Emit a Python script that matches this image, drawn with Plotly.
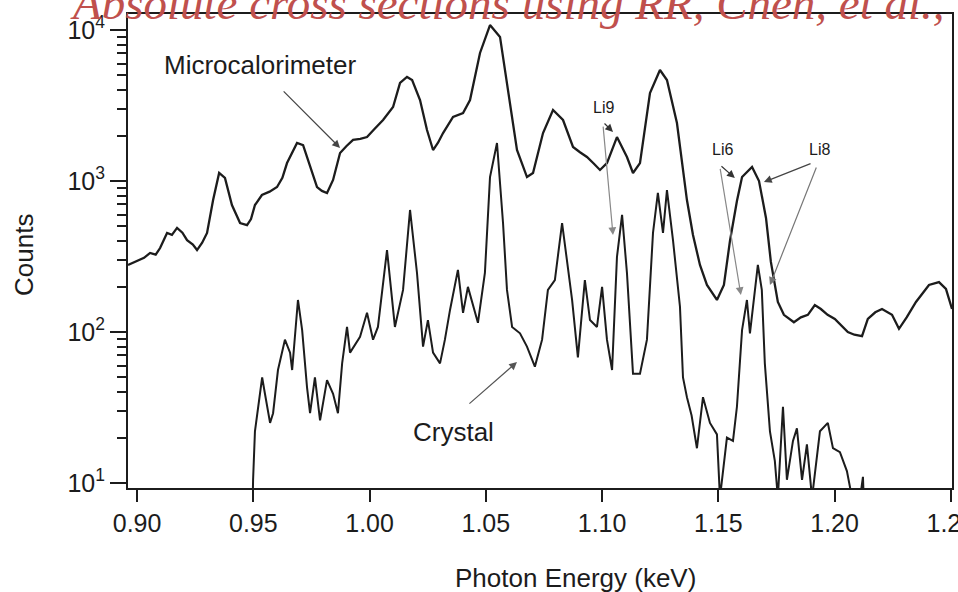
import plotly.graph_objects as go

# ---- data ----
micro_energy = [
    0.8961, 0.8991, 0.9030, 0.9056, 0.9080, 0.9099, 0.9129, 0.9150, 0.9172, 0.9195,
    0.9215, 0.9240, 0.9258, 0.9280, 0.9301, 0.9327, 0.9353, 0.9378, 0.9408, 0.9443,
    0.9473, 0.9490, 0.9507, 0.9537, 0.9570, 0.9602, 0.9625, 0.9645, 0.9688, 0.9714,
    0.9744, 0.9774, 0.9795, 0.9817, 0.9843, 0.9873, 0.9900, 0.9929, 0.9960, 0.9989,
    1.0020, 1.0058, 1.0101, 1.0131, 1.0161, 1.0183, 1.0217, 1.0247, 1.0273, 1.0295,
    1.0316, 1.0359, 1.0402, 1.0432, 1.0475, 1.0518, 1.0561, 1.0591, 1.0634, 1.0677,
    1.0703, 1.0746, 1.0789, 1.0832, 1.0875, 1.0905, 1.0935, 1.0965, 1.0991, 1.1021,
    1.1064, 1.1107, 1.1133, 1.1163, 1.1206, 1.1249, 1.1279, 1.1322, 1.1365, 1.1391,
    1.1421, 1.1451, 1.1494, 1.1524, 1.1550, 1.1580, 1.1602, 1.1645, 1.1675, 1.1705,
    1.1726, 1.1756, 1.1782, 1.1825, 1.1855, 1.1885, 1.1915, 1.1941, 1.1970, 1.2001,
    1.2030, 1.2057, 1.2085, 1.2118, 1.2143, 1.2175, 1.2204, 1.2247, 1.2277, 1.2310,
    1.2350, 1.2406, 1.2449, 1.2479, 1.2505,
]
micro_counts = [
    278, 291, 310, 334, 325, 360, 453, 440, 489, 455,
    406, 380, 349, 390, 453, 748, 1130, 1047, 693, 527,
    511, 560, 693, 808, 850, 912, 1050, 1315, 1786, 1730,
    1276, 912, 860, 833, 1016, 1531, 1700, 1870, 1900, 1955,
    2200, 2535, 3090, 4457, 4887, 4665, 3438, 2176, 1604, 1800,
    2078, 2655, 2820, 3438, 7047, 10790, 8995, 4457, 1604, 1062,
    1130, 2078, 2951, 2535, 1680, 1550, 1442, 1300, 1183, 1315,
    1955, 1442, 1130, 1315, 3828, 5433, 4665, 2421, 748, 439,
    278, 205, 163, 205, 401, 738, 1062, 1239, 1000, 569,
    291, 158, 130, 116, 125, 130, 151, 142, 130, 122,
    110, 100, 96, 94, 122, 135, 142, 130, 105, 125,
    158, 205, 214, 193, 142,
]

crystal_energy = [
    0.9495, 0.9499, 0.9507, 0.9520, 0.9538, 0.9550, 0.9572, 0.9585, 0.9606, 0.9636,
    0.9658, 0.9667, 0.9692, 0.9710, 0.9731, 0.9744, 0.9765, 0.9787, 0.9817, 0.9843,
    0.9864, 0.9882, 0.9903, 0.9916, 0.9959, 0.9989, 1.0015, 1.0036, 1.0075, 1.0109,
    1.0144, 1.0174, 1.0204, 1.0230, 1.0251, 1.0273, 1.0303, 1.0324, 1.0346, 1.0380,
    1.0402, 1.0423, 1.0445, 1.0466, 1.0496, 1.0518, 1.0548, 1.0574, 1.0591, 1.0613,
    1.0647, 1.0677, 1.0711, 1.0742, 1.0767, 1.0797, 1.0828, 1.0849, 1.0871, 1.0896,
    1.0926, 1.0948, 1.0978, 1.1000, 1.1021, 1.1043, 1.1064, 1.1086, 1.1107, 1.1133,
    1.1163, 1.1193, 1.1219, 1.1240, 1.1262, 1.1279, 1.1305, 1.1335, 1.1348, 1.1365,
    1.1385, 1.1408, 1.1434, 1.1464, 1.1494, 1.1507, 1.1537, 1.1563, 1.1580, 1.1602,
    1.1623, 1.1636, 1.1657, 1.1670, 1.1687, 1.1700, 1.1722, 1.1743, 1.1756, 1.1778,
    1.1795, 1.1821, 1.1838, 1.1860, 1.1881, 1.1903, 1.1937, 1.1971, 1.1993, 1.2023,
    1.2053, 1.2075, 1.2110, 1.2122, 1.2130,
]
crystal_counts = [
    5, 10.5, 22, 32, 50, 39, 25, 29, 56, 89,
    73, 56, 163, 103, 43, 29, 50, 26, 48, 39,
    29, 62, 108, 73, 93, 134, 89, 108, 349, 108,
    190, 643, 246, 80, 120, 73, 62, 89, 140, 258,
    134, 199, 147, 115, 246, 1062, 1786, 527, 190, 108,
    98, 80, 59, 89, 190, 221, 527, 300, 163, 68,
    221, 120, 108, 199, 89, 56, 314, 596, 246, 53,
    53, 89, 453, 833, 453, 871, 406, 147, 50, 37,
    28, 17, 37, 25, 21, 8, 20, 19, 32, 103,
    163, 98, 190, 278, 190, 62, 22, 14, 8, 32,
    10.5, 19, 23, 10.5, 18, 8, 22, 25, 17, 16,
    12, 8, 8, 11, 5,
]

x_ticks = [0.90, 0.95, 1.00, 1.05, 1.10, 1.15, 1.20, 1.25]
x_tick_labels = ["0.90", "0.95", "1.00", "1.05", "1.10", "1.15", "1.20", "1.25"]
y_ticks = [10, 100, 1000, 10000]
y_tick_labels = ["10<sup>1</sup>", "10<sup>2</sup>", "10<sup>3</sup>", "10<sup>4</sup>"]
y_minor = [m * 10 ** d for d in range(0, 5) for m in range(2, 10)]

FONT = "Liberation Sans, Arial, sans-serif"
INK = "#1c1c1c"

fig = go.Figure()
fig.add_trace(go.Scatter(x=micro_energy, y=micro_counts, mode="lines",
                         line=dict(color=INK, width=2.3), name="Microcalorimeter",
                         showlegend=False))
fig.add_trace(go.Scatter(x=crystal_energy, y=crystal_counts, mode="lines",
                         line=dict(color=INK, width=2.0), name="Crystal",
                         showlegend=False))

W, H = 958, 592
L, R, T, B = 128, 6, 14, 104
pw, ph = W - L - R, H - T - B


def px(xp):
    return (xp - L) / pw


def py(yp):
    return (H - B - yp) / ph


annotations = [
    dict(text="<i>Absolute cross sections using RR, Chen, et al.,</i>",
         xref="paper", yref="paper", x=px(68), y=py(31), xanchor="left", yanchor="bottom",
         showarrow=False, font=dict(family="Liberation Serif, Times New Roman, serif",
                                    size=47, color="#c0504d")),
    dict(text="Microcalorimeter", xref="x", yref="y", x=0.9529, y=3.768, showarrow=False,
         font=dict(family=FONT, size=26, color=INK)),
    dict(text="Crystal", xref="x", yref="y", x=1.0359, y=1.338, showarrow=False,
         font=dict(family=FONT, size=26, color=INK)),
    dict(text="Li9", xref="x", yref="y", x=1.1004, y=3.49, showarrow=False,
         font=dict(family=FONT, size=16, color=INK)),
    dict(text="Li6", xref="x", yref="y", x=1.1516, y=3.212, showarrow=False,
         font=dict(family=FONT, size=16, color=INK)),
    dict(text="Li8", xref="x", yref="y", x=1.1937, y=3.212, showarrow=False,
         font=dict(family=FONT, size=16, color=INK)),
    dict(text="Photon Energy (keV)", xref="paper", yref="paper", x=px(575), y=py(578),
         xanchor="center", yanchor="middle", showarrow=False,
         font=dict(family=FONT, size=26, color=INK)),
    dict(text="Counts", xref="paper", yref="paper", x=px(24), y=py(255), textangle=-90,
         xanchor="center", yanchor="middle", showarrow=False,
         font=dict(family=FONT, size=26, color=INK)),
]

arrows = [
    # (tail E, tail log, head E, head log, colour)
    (0.9624, 3.603, 0.9873, 3.219, "#444444"),
    (1.0423, 1.517, 1.0634, 1.801, "#555555"),
    (1.1004, 3.391, 1.1047, 3.325, "#333333"),
    (1.1004, 3.37, 1.1047, 2.642, "#888888"),
    (1.1507, 3.106, 1.1571, 3.02, "#333333"),
    (1.1507, 3.09, 1.1597, 2.245, "#888888"),
    (1.1903, 3.119, 1.1696, 2.993, "#444444"),
    (1.1924, 3.10, 1.1722, 2.311, "#777777"),
]
for tx, ty, hx, hy, c in arrows:
    annotations.append(dict(x=hx, y=hy, ax=tx, ay=ty, xref="x", yref="y", axref="x",
                            ayref="y", text="", showarrow=True, arrowhead=2,
                            arrowsize=1.3, arrowwidth=1.2, arrowcolor=c))

fig.update_layout(
    width=W, height=H,
    margin=dict(l=L, r=R, t=T, b=B, pad=0, autoexpand=False),
    paper_bgcolor="white", plot_bgcolor="white",
    annotations=annotations,
    xaxis=dict(range=[0.8961, 1.2505], tickvals=x_ticks, ticktext=x_tick_labels,
               ticks="outside", ticklen=12, tickwidth=1.8, tickcolor=INK,
               showline=True, linecolor=INK, linewidth=2, mirror=True,
               showgrid=False, zeroline=False, ticklabeloverflow="allow",
               automargin=False,
               tickfont=dict(family=FONT, size=25, color=INK)),
    yaxis=dict(type="log", range=[0.967, 4.106], tickvals=y_ticks, ticktext=y_tick_labels,
               ticks="outside", ticklen=16, tickwidth=1.8, tickcolor=INK,
               showline=True, linecolor=INK, linewidth=2, mirror=True,
               showgrid=False, zeroline=False, ticklabeloverflow="allow",
               automargin=False,
               minor=dict(tickvals=y_minor, ticks="outside", ticklen=9, tickwidth=1.5,
                          tickcolor=INK, showgrid=False),
               tickfont=dict(family=FONT, size=25, color=INK)),
)

fig.write_html("out.html")
